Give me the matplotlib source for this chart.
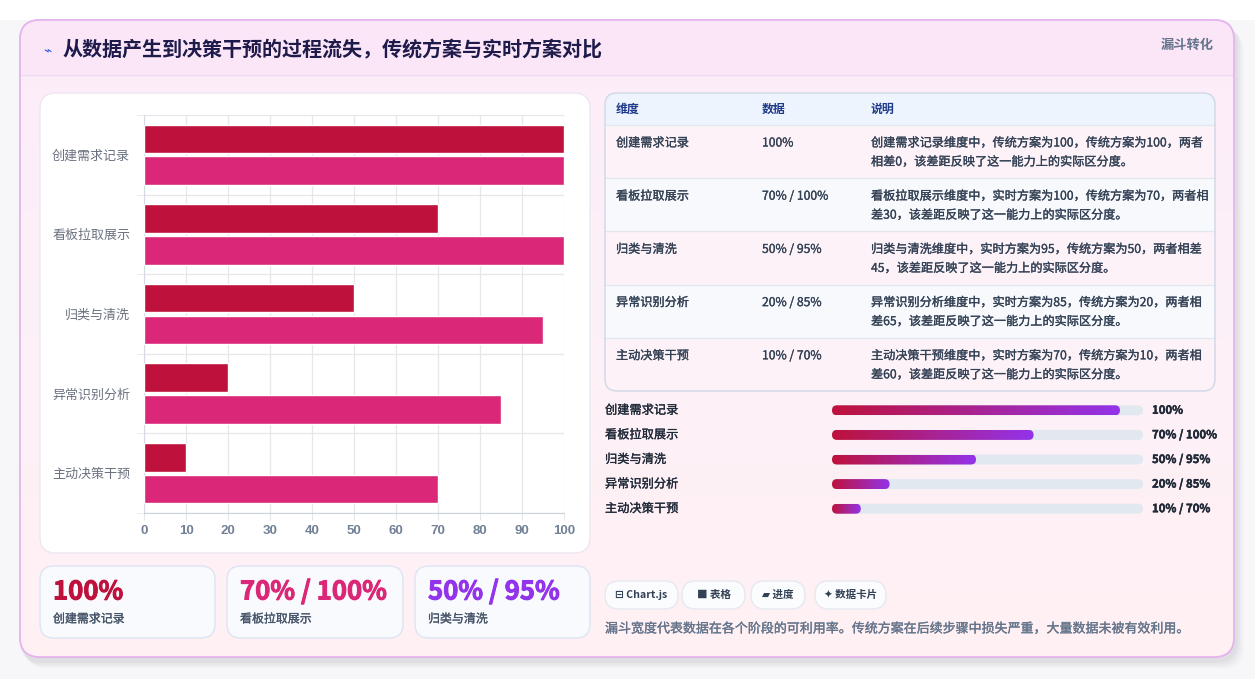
import numpy as np
import matplotlib.pyplot as plt
import matplotlib.patheffects as pe
from matplotlib.patches import FancyBboxPatch
from matplotlib.colors import LinearSegmentedColormap

plt.rcParams['font.family'] = ['Noto Sans CJK SC', 'DejaVu Sans']

# data
stages = ['创建需求记录', '看板拉取展示', '归类与清洗', '异常识别分析', '主动决策干预']
traditional = [100, 70, 50, 20, 10]
realtime = [100, 100, 95, 85, 70]
descriptions = [
    '创建需求记录维度中，传统方案为100，传统方案为100，两者\n相差0，该差距反映了这一能力上的实际区分度。',
    '看板拉取展示维度中，实时方案为100，传统方案为70，两者相\n差30，该差距反映了这一能力上的实际区分度。',
    '归类与清洗维度中，实时方案为95，传统方案为50，两者相差\n45，该差距反映了这一能力上的实际区分度。',
    '异常识别分析维度中，实时方案为85，传统方案为20，两者相\n差65，该差距反映了这一能力上的实际区分度。',
    '主动决策干预维度中，实时方案为70，传统方案为10，两者相\n差60，该差距反映了这一能力上的实际区分度。',
]
table_header = ['维度', '数据', '说明']
chips = ['⊟ Chart.js', '■ 表格', '▰ 进度', '✦ 数据卡片']
kpi_colors = ['#be123c', '#db2777', '#9333ea']
title = '从数据产生到决策干预的过程流失，传统方案与实时方案对比'
tag = '漏斗转化'
note = '漏斗宽度代表数据在各个阶段的可利用率。传统方案在后续步骤中损失严重，大量数据未被有效利用。'


def data_label(t, r):
    return f'{t}%' if t == r else f'{t}% / {r}%'


def semi(color, w=0.2):
    # a bit heavier than regular, like a medium weight
    return [pe.withStroke(linewidth=w, foreground=color)]


W, H = 1255, 679
fig = plt.figure(figsize=(W / 100, H / 100), dpi=100)
fig.patch.set_facecolor('#f7f7f9')

bg = fig.add_axes([0, 0, 1, 1])
bg.set_xlim(0, W)
bg.set_ylim(H, 0)
bg.axis('off')


def rbox(x0, y0, x1, y1, r, fc, ec='none', lw=1.0, z=1):
    p = FancyBboxPatch((x0, y0), x1 - x0, y1 - y0,
                       boxstyle=f'round,pad=0,rounding_size={r}',
                       fc=fc, ec=ec, lw=lw, zorder=z)
    bg.add_patch(p)
    return p


# white top strip, card shadow
bg.add_patch(plt.Rectangle((0, 0), W, 20, fc='white', ec='none', zorder=0))
for k, a in enumerate([0.05, 0.04, 0.03, 0.02]):
    rbox(20 + k * 2, 24 + k * 2, 1238 + k * 2, 663 + k * 2, 22, fc=(0.3, 0.3, 0.4, a), z=0.5)

# main card with gradient body
card = rbox(20, 20, 1234, 657, 20, fc='#fdf0f8', ec='#e4b4ee', lw=1.2, z=1)
grad = np.linspace(0, 1, 200).reshape(-1, 1)
body_cmap = LinearSegmentedColormap.from_list('body', ['#fcecf9', '#fdf1f8', '#fff0f3'])
im = bg.imshow(grad, cmap=body_cmap, extent=(20, 1234, 657, 20), aspect='auto', zorder=1.1)
im.set_clip_path(card)
hdr = bg.add_patch(plt.Rectangle((20, 20), 1214, 55, fc='#fbe6f8', ec='none', zorder=1.2))
hdr.set_clip_path(card)
bg.plot([20, 1234], [75, 75], color='#ecd8f2', lw=1, zorder=1.3)
rbox(20, 20, 1234, 657, 20, fc='none', ec='#e4b4ee', lw=1.2, z=1.4)

bg.text(47, 50, '⌁', color='#3b5bdb', fontsize=10, ha='center', va='center', zorder=3,
        family=['DejaVu Sans'])
bg.text(62, 50, title, color='#1e1b4b', fontsize=14.45, fontweight='bold', ha='left', va='center', zorder=3)
bg.text(1214, 45, tag, color='#64748b', fontsize=9.5, fontweight='bold', ha='right', va='center', zorder=3)

# chart panel
rbox(40, 93, 590, 553, 16, fc='white', ec='#ede7f3', lw=1, z=2)

ax = fig.add_axes([144 / W, 1 - 513 / H, 420 / W, 398 / H])
ax.set_zorder(3)
ax.patch.set_alpha(0)
y = np.arange(len(stages))
ax.barh(y - 0.2, traditional, height=0.36, color='#be123c', edgecolor='white', linewidth=1, zorder=3)
ax.barh(y + 0.2, realtime, height=0.36, color='#db2777', edgecolor='white', linewidth=1, zorder=3)
ax.set_xlim(0, 100)
ax.set_ylim(len(stages) - 0.5, -0.5)
ax.set_xticks(np.arange(0, 101, 10))
ax.set_yticks(y)
ax.set_yticklabels(stages)
ax.set_yticks(np.arange(-0.5, len(stages), 1), minor=True)
ax.grid(True, axis='x', color='#e5e7eb', lw=0.9, zorder=0)
ax.grid(True, axis='y', which='minor', color='#e5e7eb', lw=0.9, zorder=0)
ax.tick_params(axis='y', which='major', length=0, pad=10, labelsize=9.4, labelcolor='#6b7280')
ax.tick_params(axis='y', which='minor', length=5, color='#e5e7eb')
ax.tick_params(axis='x', length=5, color='#e5e7eb', labelsize=9.5, labelcolor='#718096', pad=4)
for lab in ax.get_xticklabels():
    lab.set_fontweight('bold')
    lab.set_family(['Liberation Sans', 'DejaVu Sans'])
for s in ['top', 'right']:
    ax.spines[s].set_visible(False)
ax.spines['left'].set_color('#d5dae2')
ax.spines['bottom'].set_color('#cbd2dc')

# table
tx0, tx1, ty0 = 605, 1215, 93
hdr_h, row_h = 32, 53.2
ty1 = ty0 + hdr_h + row_h * len(stages)
tbox = rbox(tx0, ty0, tx1, ty1, 12, fc='none', ec='#cfd8e6', lw=1, z=2.5)
th = bg.add_patch(plt.Rectangle((tx0, ty0), tx1 - tx0, hdr_h, fc='#eef4fd', ec='none', zorder=2))
th.set_clip_path(tbox)
col_x = [616, 762, 871]
for cx, t in zip(col_x, table_header):
    bg.text(cx, ty0 + hdr_h / 2, t, color='#1e3a8a', fontsize=8.6, fontweight='bold', va='center', zorder=3)
cell = dict(color='#334155', fontsize=8.75, va='center', zorder=3, path_effects=semi('#334155'))
for i, (s, t, r, d) in enumerate(zip(stages, traditional, realtime, descriptions)):
    top = ty0 + hdr_h + i * row_h
    fc = '#fdf2f8' if i % 2 == 0 else '#f7f9fc'
    rp = bg.add_patch(plt.Rectangle((tx0, top), tx1 - tx0, row_h, fc=fc, ec='none', zorder=2))
    rp.set_clip_path(tbox)
    bg.plot([tx0, tx1], [top, top], color='#e2e8f0', lw=0.9, zorder=2.2)
    line1, line2 = d.split('\n')
    bg.text(col_x[0], top + 18, s, **cell)
    bg.text(col_x[1], top + 18, data_label(t, r), **cell)
    bg.text(col_x[2], top + 18, line1, **cell)
    bg.text(col_x[2], top + 37, line2, **cell)

# progress bars
pax = fig.add_axes([832 / W, 1 - 521 / H, 311 / W, 123 / H])
pax.set_zorder(3)
pax.patch.set_alpha(0)
pax.axis('off')
xmax = 108
px_x = 311 / xmax
px_y = 123 / len(stages)
bh = 10 / px_y
rad = 5 / px_x
masp = (5 / px_y) / rad
pcmap = LinearSegmentedColormap.from_list('prog', ['#be123c', '#9333ea'])
for i, t in enumerate(traditional):
    track = FancyBboxPatch((0, i - bh / 2), xmax, bh, boxstyle=f'round,pad=0,rounding_size={rad}',
                           mutation_aspect=masp, fc='#e2e8f0', ec='none', zorder=1)
    pax.add_patch(track)
    fill = FancyBboxPatch((0, i - bh / 2), t, bh, boxstyle=f'round,pad=0,rounding_size={rad}',
                          mutation_aspect=masp, fc='none', ec='none', zorder=2)
    pax.add_patch(fill)
    g = pax.imshow(np.linspace(0, 1, 256).reshape(1, -1), cmap=pcmap, aspect='auto',
                   extent=(0, t, i + bh / 2, i - bh / 2), zorder=2)
    g.set_clip_path(fill)
pax.set_xlim(0, xmax)
pax.set_ylim(len(stages) - 0.5, -0.5)

for i, (s, t, r) in enumerate(zip(stages, traditional, realtime)):
    yy = 398 + (i + 0.5) * px_y
    bg.text(605, yy, s, color='#1f2937', fontsize=8.8, va='center', zorder=3, path_effects=semi('#1f2937'))
    bg.text(1152, yy, data_label(t, r), color='#1f2937', fontsize=8.2, fontweight='bold', va='center', zorder=3,
            path_effects=semi('#1f2937', 0.3))

# chips
chip_x = [(605, 678), (682, 745), (751, 805), (815, 886)]
for (c0, c1), c in zip(chip_x, chips):
    rbox(c0, 581, c1, 609, 14, fc='#fbfcfe', ec='#e5e9f0', lw=1, z=2)
    bg.text((c0 + c1) / 2, 595, c, color='#334155', fontsize=7.6, fontweight='bold', ha='center', va='center',
            zorder=3, family=['Noto Sans CJK SC', 'DejaVu Sans'])
bg.text(605, 629, note, color='#64748b', fontsize=9.35, va='center', zorder=3, path_effects=semi('#64748b'))

# KPI cards
kpi_x = [(40, 215), (227, 403), (415, 590)]
for (k0, k1), s, t, r, col in zip(kpi_x, stages[:3], traditional[:3], realtime[:3], kpi_colors):
    rbox(k0, 566, k1, 638, 14, fc='#f8fafe', ec='#dde5f3', lw=1, z=2)
    bg.text(k0 + 13, 592, data_label(t, r), color=col, fontsize=18.5, fontweight='bold', va='center', zorder=3,
            path_effects=semi(col, 0.7))
    bg.text(k0 + 13, 619, s, color='#475569', fontsize=8.6, va='center', zorder=3, path_effects=semi('#475569'))

fig.savefig('out.png', dpi=100, facecolor=fig.get_facecolor())
